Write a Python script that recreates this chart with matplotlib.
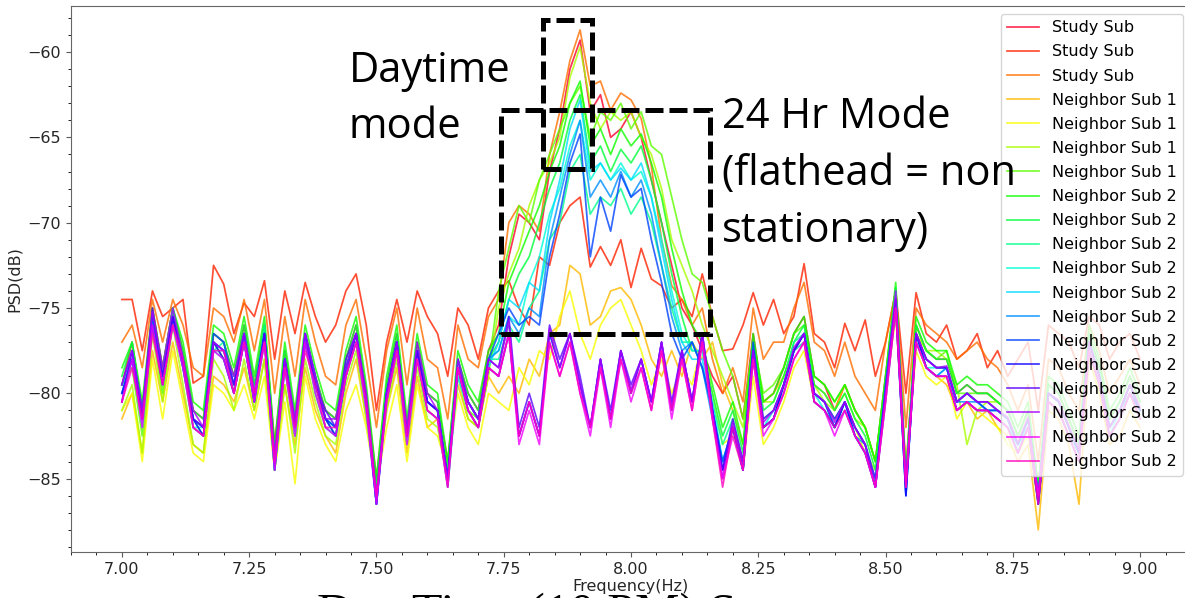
import matplotlib
matplotlib.use("Agg")
import matplotlib.pyplot as plt
import matplotlib.patches as patches
from matplotlib.ticker import MultipleLocator
import numpy as np

# frequency grid (Hz)
freq = np.round(np.linspace(7.0, 9.0, 101), 2)

labels = ["Study Sub"] * 3 + ["Neighbor Sub 1"] * 4 + ["Neighbor Sub 2"] * 12

# PSD traces (dB)
psd_00 = [-79.5, -77, -81, -75, -78.5, -75, -77.5, -81, -81.5, -76.5,
          -77, -79, -76, -79.5, -76, -83, -77.5, -81.5, -76.5, -79,
          -81, -81.5, -78, -76, -80, -85, -79.5, -76.5, -82, -77,
          -80, -80.5, -84, -78, -80, -81, -77.5, -76, -72, -69.5,
          -70, -71, -67, -64.5, -61, -59.3, -63.5, -62.5, -65, -64.5,
          -63.5, -65, -67.5, -70, -72.5, -75, -76, -77.5, -79, -80,
          -79, -81.5, -76.5, -80.5, -80, -78.5, -76.5, -75.5, -79, -79.5,
          -81, -79.5, -81, -82, -84, -79, -74, -84.5, -76, -77.5,
          -78, -78, -80, -79.5, -80, -80, -80.5, -81, -82.5, -81,
          -85.5, -79.5, -80, -81.5, -83, -76.5, -78.5, -81.5, -80.5, -79,
          -80.5]
psd_01 = [-74.5, -74.5, -77.5, -74, -75.5, -75, -74.5, -79.4, -79, -72.5,
          -73.6, -76.5, -74.7, -75.5, -73.4, -78, -74, -76.5, -73.5, -75.5,
          -77, -76, -74, -73, -76, -81, -77, -74.5, -77, -74,
          -75.5, -76.5, -79, -75, -76, -78, -75, -74, -73.4, -75,
          -76, -72, -72.5, -70, -69, -68.5, -72.6, -71.4, -72.5, -71,
          -73.8, -71.5, -73.3, -73.7, -75, -74.5, -75.5, -73, -75.5, -77.5,
          -77.4, -76, -74.1, -76, -74.5, -76.5, -75.5, -72.4, -76.5, -77,
          -78.5, -75.9, -77.5, -75.7, -79, -77, -74, -80, -74.1, -76.5,
          -77, -76, -78, -77.5, -76.5, -78.5, -77.5, -79, -78, -77,
          -81, -76, -76.5, -77, -78.5, -75.5, -76, -78, -77, -76.5,
          -78]
psd_02 = [-77, -76, -78.5, -74.5, -77, -74.5, -76, -78.5, -79, -75,
          -75.5, -77, -74.5, -77.5, -74.5, -80, -75.5, -79, -74.5, -77,
          -79, -79.5, -76, -74.5, -78, -82, -77.5, -75, -79.5, -75,
          -78, -78.5, -81.5, -76, -78, -78.5, -75.5, -74.5, -70, -69,
          -69.5, -70.5, -66, -63.5, -60.5, -58.7, -62, -61.7, -63.4, -62.4,
          -62.8, -63.9, -66.7, -71, -73.7, -74.5, -76, -75, -78, -80,
          -78.5, -80.5, -75, -78, -77, -77, -75, -73.5, -77, -77.5,
          -79, -77, -79, -80, -81, -77, -74, -82, -75, -76,
          -76.5, -77, -78, -77.5, -77, -78, -78.5, -79.5, -81, -79.5,
          -84, -78, -78.5, -80, -81, -76, -77.5, -80, -79, -78,
          -79.5]
psd_03 = [-81.5, -80, -83.5, -77.5, -80.5, -77, -80, -83, -83.5, -79,
          -79.5, -80.5, -78.5, -81, -78, -84.5, -79.5, -83, -78.5, -81,
          -82.5, -83.5, -80, -78, -81.5, -85.5, -81, -78.5, -83.5, -79,
          -82, -81.5, -84, -79.5, -81.5, -82, -79, -80, -79, -80,
          -78, -79, -76.5, -76, -72.5, -73, -76, -75.5, -74, -73.8,
          -74.5, -76, -78, -79, -77.5, -79, -77, -78, -77, -79.5,
          -81, -83, -78, -80.5, -80, -79, -77.5, -77, -79.5, -80,
          -81, -79.5, -81, -82, -84, -79.5, -75, -85, -77, -78.5,
          -79, -79.5, -81, -80.5, -81.5, -81, -82, -82.5, -84, -83,
          -88, -81, -81.5, -83, -86.5, -78, -80, -83, -82.5, -81,
          -82]
psd_04 = [-81, -80, -84, -78, -81.5, -77.5, -80.5, -83.5, -84, -79.5,
          -80, -81, -79.5, -81.5, -79, -84.5, -80.5, -85.3, -79, -81.5,
          -83, -84, -81, -79.5, -82, -85.5, -82, -79.5, -84, -79.5,
          -82, -82.5, -84.5, -80, -82, -83, -80, -80.5, -81, -78.5,
          -79.5, -77.5, -78, -75.5, -74, -76.5, -78, -76, -75, -74.5,
          -76, -77.5, -79.5, -78, -80, -78.5, -79.5, -77, -80, -83,
          -82.5, -84.5, -79, -83, -82, -80.5, -78.5, -77.5, -80.5, -81,
          -82, -80.5, -82, -83.5, -84.5, -80, -75.5, -84.5, -77.5, -79,
          -79.5, -79, -81.5, -80.5, -81, -81.5, -82, -83, -83.5, -82.5,
          -86.5, -80.5, -81, -82.5, -84, -77.5, -80, -82.5, -81.5, -80,
          -81.5]
psd_05 = [-81, -79.5, -83.5, -76.5, -80.5, -76, -79.5, -83, -83.5, -78,
          -79, -81, -78, -81, -78, -84.5, -79.5, -83.5, -78, -80.5,
          -82.5, -83, -79.5, -77.5, -81.5, -85.5, -81, -78, -83, -78.5,
          -81.5, -82, -85, -79, -81.5, -82, -79, -75, -73, -71.5,
          -69, -67.5, -66.5, -65, -61.5, -59.7, -63, -64.5, -63.5, -64,
          -63.5, -65, -66, -68, -71, -72.5, -74, -76, -77.5, -79,
          -80.5, -82, -77, -80.5, -80.5, -79, -77.5, -76.5, -79.5, -80.5,
          -81, -80, -81.5, -82, -84, -79.5, -74, -84.5, -76.5, -77.5,
          -77.5, -78, -79.5, -83, -81, -80.5, -80.5, -81, -82.5, -81,
          -85.5, -80, -80.5, -82, -83.5, -77, -79, -82, -81, -79.5,
          -80.5]
psd_06 = [-79.5, -78.5, -82.5, -76, -80, -75.5, -78.5, -82, -82.5, -77,
          -78, -80, -77, -80.5, -77, -84, -78.5, -82.5, -77, -80,
          -82, -82.5, -79, -77, -81, -85.5, -80.5, -77.5, -82.5, -78,
          -81, -81.5, -84.5, -78.5, -81, -81.5, -78.5, -74, -71.5, -69,
          -70, -67.5, -66, -64.5, -63, -62, -65, -63.5, -64, -63,
          -64.5, -63.5, -65.5, -66, -68.5, -71, -73, -73.5, -75.5, -77.5,
          -79, -81.5, -77, -80, -79.5, -78.5, -76.5, -76, -79, -79.5,
          -80.5, -79.5, -81, -82, -84, -79, -74, -85, -76, -77.5,
          -78, -77.5, -80, -80, -80, -80, -80.5, -81, -82.5, -81,
          -85.5, -79.5, -80, -81.5, -83, -76.5, -78.5, -81.5, -80.5, -79,
          -80.5]
psd_07 = [-78.5, -77, -80.5, -75, -78.5, -75, -77, -80.5, -81, -76,
          -76.5, -78.5, -75.5, -79, -75.5, -83, -77, -81, -76, -78.5,
          -80.5, -81, -77.5, -75.5, -79.5, -85, -79, -76, -81.5, -76.5,
          -79.5, -80, -84, -77.5, -79.5, -80.5, -77.5, -76.5, -73.5, -72,
          -70.5, -69, -67, -65.5, -63, -61.7, -65.5, -64.5, -66, -64.5,
          -65.5, -64.8, -66.5, -68.5, -71.5, -74, -76, -77, -79.5, -82,
          -80.5, -83, -76.5, -80.5, -80, -78.5, -76.5, -75.5, -79, -79.5,
          -80.5, -79.5, -81, -82, -84, -79, -73.5, -85, -75.5, -77,
          -77.5, -77.5, -79.5, -79, -79.5, -79.5, -80, -80.5, -82, -80.5,
          -85.5, -79, -79.5, -81, -82.5, -76, -78, -81, -80, -78.5,
          -80]
psd_08 = [-79, -77, -81, -75.5, -78.5, -75, -77.5, -81, -81.5, -76.5,
          -77, -79, -76, -79.5, -76, -83.5, -77.5, -81.5, -76.5, -79,
          -81, -81.5, -78, -76, -80, -85.5, -79.5, -76.5, -82, -77,
          -80, -80.5, -84.5, -78, -80, -81, -78, -77, -74.5, -73,
          -72, -70, -68, -66.5, -64, -62.5, -66.5, -65.5, -67, -65.7,
          -66.5, -65.5, -67.5, -70, -73, -75.5, -77.5, -77.5, -80, -82.5,
          -81, -83.5, -77, -81, -80.5, -79, -77, -76, -79.5, -80,
          -81, -80, -81.5, -82.5, -84.5, -79.5, -73.8, -85, -76, -77.5,
          -78, -78, -80, -79.5, -80, -80, -80.5, -81, -82.5, -81,
          -85.5, -79.5, -80, -81.5, -83, -76.5, -78.5, -81.5, -80.5, -79,
          -80.5]
psd_09 = [-79.5, -78, -81, -76, -79.5, -75, -78.5, -81.5, -82.5, -77.5,
          -77, -80, -76.5, -80.5, -76, -84.5, -78, -82.5, -77, -79.5,
          -81.5, -82.5, -78.5, -76.5, -80.5, -86, -80, -77.5, -82.5, -77.5,
          -80.5, -81, -85.5, -78.5, -80.5, -81.5, -78, -78, -76, -77,
          -75, -74, -71, -70, -67, -66, -69.5, -68.5, -69, -68,
          -69.5, -68.5, -70, -72.5, -75, -77, -77, -78.5, -80.5, -83,
          -81.5, -84, -77.5, -81.5, -81, -79.5, -77, -76.5, -80, -80.5,
          -81.5, -80.5, -82, -83, -85, -80, -74, -85.5, -76.5, -78,
          -78.5, -78.5, -80.5, -80, -80.5, -80.5, -81, -81.5, -83, -81.5,
          -86, -80, -80.5, -82, -83.5, -77, -79, -82, -81, -79.5,
          -81]
psd_10 = [-80, -77.5, -81.5, -76, -79, -75.5, -78, -82, -82, -77.5,
          -77.5, -79.5, -76.5, -80, -76.5, -84.5, -78, -82, -77, -79.5,
          -81.5, -82, -78.5, -76.5, -80.5, -86.5, -80, -77, -82.5, -77.5,
          -80.5, -81, -85, -78.5, -80.5, -81.5, -78, -77.5, -75.5, -76,
          -73.5, -72, -69.5, -68, -65.5, -64, -67.5, -66.5, -67.5, -66.5,
          -67.5, -67, -68.5, -71, -74, -76.5, -77.5, -77.5, -80.5, -84,
          -82, -84.5, -77.5, -82, -81, -79.5, -77.5, -76.5, -80, -81,
          -82, -80.5, -82.5, -83.5, -85, -80, -74.5, -85.5, -76.5, -78.5,
          -78.5, -78.5, -80.5, -80, -80.5, -81, -81, -81.5, -83.5, -81.5,
          -86, -80, -80.5, -82, -83.5, -77, -79, -82.5, -81, -79.5,
          -81]
psd_11 = [-80.5, -78, -82, -76, -79.5, -76, -78.5, -82, -82.5, -77.5,
          -78, -80, -77, -80.5, -77, -84.5, -78.5, -82.5, -77, -80,
          -82, -82.5, -79, -77, -81, -86.5, -80.5, -77.5, -83, -78,
          -81, -81.5, -85.5, -79, -81, -82, -78.5, -77, -74.5, -75,
          -73.5, -74, -70, -67.5, -64.5, -62.8, -67, -66.5, -67.5, -66.8,
          -67.5, -66.5, -68.5, -71.5, -74.5, -77, -78, -78, -81, -84,
          -82, -84.5, -78, -82, -81.5, -80, -77.5, -77, -80.5, -81,
          -82, -81, -82.5, -83.5, -85.5, -80.5, -75, -85.5, -77, -78.5,
          -79, -78.5, -81, -80.5, -81, -81, -81.5, -82, -83, -82,
          -86.5, -80.5, -81, -82.5, -83.5, -77.5, -79.5, -82.5, -81.5, -80,
          -81]
psd_12 = [-80, -78, -81.5, -75.5, -79, -75.5, -78, -81.5, -82, -77,
          -77.5, -79.5, -76.5, -80, -76.5, -84, -78, -82, -76.5, -79.5,
          -81.5, -82, -78.5, -76.5, -80.5, -86.5, -80, -77, -82.5, -77.5,
          -80.5, -81, -85, -78.5, -80.5, -81.5, -78, -77.5, -75.5, -76.5,
          -75, -75.5, -71, -68.5, -66, -64, -68.5, -67.5, -68.5, -67,
          -68.5, -67.5, -69.5, -72.5, -75.5, -77.5, -77, -78.5, -81.5, -84.5,
          -82, -84.5, -77.5, -82, -81.5, -79.5, -77.5, -76.5, -80, -80.5,
          -82, -80.5, -82.5, -83, -85.5, -80, -74.5, -86, -76.5, -78.5,
          -79, -78.5, -80.5, -80.5, -80.5, -81, -81, -81.5, -83, -81.5,
          -86, -80, -80.5, -82, -83.5, -77, -79, -82, -81, -80,
          -81]
psd_13 = [-79.5, -77.5, -81, -75.5, -79, -75.5, -78, -81.5, -82, -76.5,
          -77, -79.5, -76.5, -80, -76.5, -84, -78, -82, -76.5, -79,
          -81.5, -82, -78.5, -76.5, -80.5, -86.5, -80, -77, -82.5, -77.5,
          -80.5, -81, -85, -78, -80.5, -81.5, -78, -76.5, -75, -76,
          -75.5, -76, -72, -69.5, -66.5, -64.8, -72, -68.5, -70.5, -67.2,
          -68.5, -68, -71, -73.5, -76.5, -78, -77, -78.5, -81, -84,
          -82, -84.5, -77, -82, -81.5, -79.5, -77.5, -76.5, -80, -80.5,
          -82, -80.5, -82, -83, -85.5, -79.5, -74.5, -86, -76.5, -78,
          -78.5, -78.5, -80.5, -80, -80.5, -81, -81, -81.5, -83, -81.5,
          -86.5, -80, -80.5, -82, -83.5, -77, -79, -82, -81, -79.5,
          -81]
psd_14 = [-80, -78, -81.5, -76, -79.5, -75.5, -78.5, -81.5, -82.5, -77,
          -78, -80, -77, -80.5, -76.5, -84.5, -78, -82, -77, -79.5,
          -81.5, -82.5, -79, -76.5, -80.5, -86.5, -80, -77, -82.5, -77.5,
          -80.5, -81, -85, -78.5, -81, -82, -78.5, -79, -76.5, -82.5,
          -80.5, -82.5, -76.5, -78.5, -76.5, -79.5, -82, -78, -81.5, -77.5,
          -80, -78, -80.5, -77, -81, -77.5, -80.5, -76.5, -81, -84.5,
          -82, -84.5, -77.5, -82, -81.5, -79.5, -77.5, -76.5, -80.5, -81,
          -82, -80.5, -82.5, -83.5, -85.5, -80, -75, -86, -76.5, -78.5,
          -79, -79, -81, -80.5, -81, -81, -81.5, -82, -83.5, -82,
          -86.5, -80.5, -81, -82.5, -84, -77.5, -79.5, -82.5, -81.5, -80,
          -81]
psd_15 = [-80.5, -77.5, -81.5, -75, -79, -75.5, -78, -81.5, -82, -77,
          -77.5, -79.5, -76.5, -80.5, -76.5, -84, -78, -82, -76.5, -79.5,
          -81, -82, -78, -76.5, -80.5, -86, -80, -77, -82.5, -77.5,
          -80.5, -81, -85, -78.5, -80.5, -81.5, -78, -78.5, -75.5, -82,
          -80, -82, -76, -78, -76.5, -79, -82, -78, -81, -77.5,
          -79.5, -78, -80.5, -77, -80.5, -77.5, -80.5, -76.5, -81, -84.5,
          -81.5, -84, -77.5, -81.5, -81, -79.5, -77.5, -76.5, -80, -80.5,
          -81.5, -80.5, -82, -83, -85, -80, -74.5, -85.5, -76.5, -78,
          -78.5, -78.5, -80.5, -80, -80.5, -80.5, -81, -81.5, -83, -81.5,
          -86, -80, -80.5, -82, -83.5, -77, -79, -82, -81, -79.5,
          -81]
psd_16 = [-79.5, -77.5, -81, -75.2, -78.5, -75, -78, -81, -82, -77,
          -77.5, -79, -76.5, -80, -77, -83.5, -78, -81.5, -76.5, -79,
          -81.5, -81.5, -78.5, -76.5, -80, -86, -80, -77, -82, -77,
          -80, -81, -85, -78, -80.5, -81.5, -78, -78.5, -75.8, -82.5,
          -80.5, -82.5, -76.2, -78.5, -76.5, -79.5, -82, -78, -81.5, -77.5,
          -79.8, -78, -80.5, -77, -80.8, -77.5, -80.5, -76.5, -81, -85,
          -81.7, -84, -77.5, -81.7, -81, -79.5, -77.3, -76.5, -80, -80.5,
          -81.7, -80.5, -82, -83, -85.5, -80, -74, -85, -76.5, -78,
          -78.5, -78.4, -80.5, -80, -80.5, -80.5, -81, -81.4, -82.9, -81.4,
          -86, -80, -80.4, -81.9, -83.3, -77, -79, -82, -81, -79.5,
          -80.8]
psd_17 = [-80.5, -78, -82, -76, -79.5, -76, -78.5, -82, -82.5, -77.5,
          -78, -80, -77, -80.5, -77, -84.5, -78.5, -82.5, -77, -80,
          -82, -82.5, -79, -77, -81, -86.5, -80.5, -77.5, -83, -78,
          -81, -81.5, -85.5, -78.5, -81, -82, -78.5, -79, -76.5, -83,
          -81, -83, -77, -79, -77, -80, -82.5, -78.5, -82, -78,
          -80.5, -78.5, -81, -77.5, -81.5, -78, -81, -77, -81.5, -85,
          -82.5, -84.5, -78, -82.5, -81.5, -80, -78, -77, -80.5, -81,
          -82.5, -81, -82.5, -83.5, -85.5, -80.5, -75, -85.5, -77, -78.5,
          -79, -79, -81, -80.5, -81, -81, -81.5, -82, -83.5, -82,
          -86, -80.5, -81, -82.5, -84, -77.5, -79.5, -82.5, -81.5, -80,
          -81.5]
psd_18 = [-80.5, -78.5, -81.5, -76.5, -79.5, -76, -78, -82, -82.5, -77.5,
          -77.5, -80, -77, -80, -77, -84, -78.5, -82, -77.5, -79.5,
          -82, -82, -79, -77, -80.5, -86, -80.5, -77.5, -82.5, -78,
          -81, -81.5, -85.5, -78.5, -81, -82, -78.5, -79, -76.5, -82.5,
          -80.5, -82.5, -77, -79, -77, -80, -82, -78.5, -81.5, -78,
          -80, -78.5, -81, -77.5, -81, -78, -81, -77, -81.5, -85.5,
          -82, -84.5, -78, -82, -81.5, -80, -78, -77, -80.5, -81,
          -82, -81, -82.5, -83.5, -85.5, -80.5, -75, -85.5, -77, -78.5,
          -79, -79, -81, -80.5, -81, -81, -81.5, -82, -83.5, -82,
          -86.5, -80.5, -81, -82.5, -84, -77.5, -79.5, -82.5, -81.5, -80,
          -81.5]

traces = [psd_00, psd_01, psd_02, psd_03, psd_04, psd_05, psd_06, psd_07,
          psd_08, psd_09, psd_10, psd_11, psd_12, psd_13, psd_14, psd_15,
          psd_16, psd_17, psd_18]

colors = plt.cm.gist_rainbow(np.linspace(0, 1, len(traces)))

fig = plt.figure(figsize=(11.85, 5.98), dpi=100)
# axes run a little past the right edge, like the cropped screenshot
ax = fig.add_axes([71 / 1185, 46 / 598, 1120 / 1185, 546 / 598])

for y, c, lab in zip(traces, colors, labels):
    ax.plot(freq, y, color=c, lw=1.25, alpha=0.8, label=lab)

ax.set_xlim(6.9, 9.1)
ax.set_ylim(-89.3, -57.3)
ax.xaxis.set_major_locator(MultipleLocator(0.25))
ax.xaxis.set_minor_locator(MultipleLocator(0.05))
ax.yaxis.set_major_locator(MultipleLocator(5))
ax.yaxis.set_minor_locator(MultipleLocator(1))
ax.xaxis.set_major_formatter(plt.FormatStrFormatter("%.2f"))
ax.tick_params(labelsize=11.5, colors="0.35", labelcolor="0.15")
for s in ax.spines.values():
    s.set_color("0.4")

ax.set_xlabel("Frequency(Hz)", fontsize=11.5, color="0.15", labelpad=2)
ax.set_ylabel("PSD(dB)", fontsize=11.5, color="0.15")

ax.legend(loc="upper right", fontsize=11.5, labelspacing=0.57)

# dashed boxes marking the two modes
box_style = dict(fill=False, ec="black", lw=3.6, ls=(0, (3.6, 1.2)),
                 zorder=6, clip_on=False)
ax.add_patch(patches.Rectangle((7.828, -66.86), 0.096, 8.75, **box_style))
ax.add_patch(patches.Rectangle((7.744, -76.51), 0.412, 13.13, **box_style))

note = dict(fontsize=30, family="Open Sans", color="black", va="baseline")
fig.text(349 / 1185, 1 - 82 / 598, "Daytime", **note)
fig.text(349 / 1185, 1 - 138 / 598, "mode", **note)
fig.text(722 / 1185, 1 - 128 / 598, "24 Hr Mode", **note)
fig.text(722 / 1185, 1 - 185 / 598, "(flathead = non", **note)
fig.text(722 / 1185, 1 - 242 / 598, "stationary)", **note)

# slide title below the plot, mostly cut off
fig.text(317 / 1185, 1 - 628 / 598, "Day Time (10 PM) Spectrum",
         fontsize=36, family="Liberation Serif", va="baseline")

fig.savefig("out.png", dpi=100)
